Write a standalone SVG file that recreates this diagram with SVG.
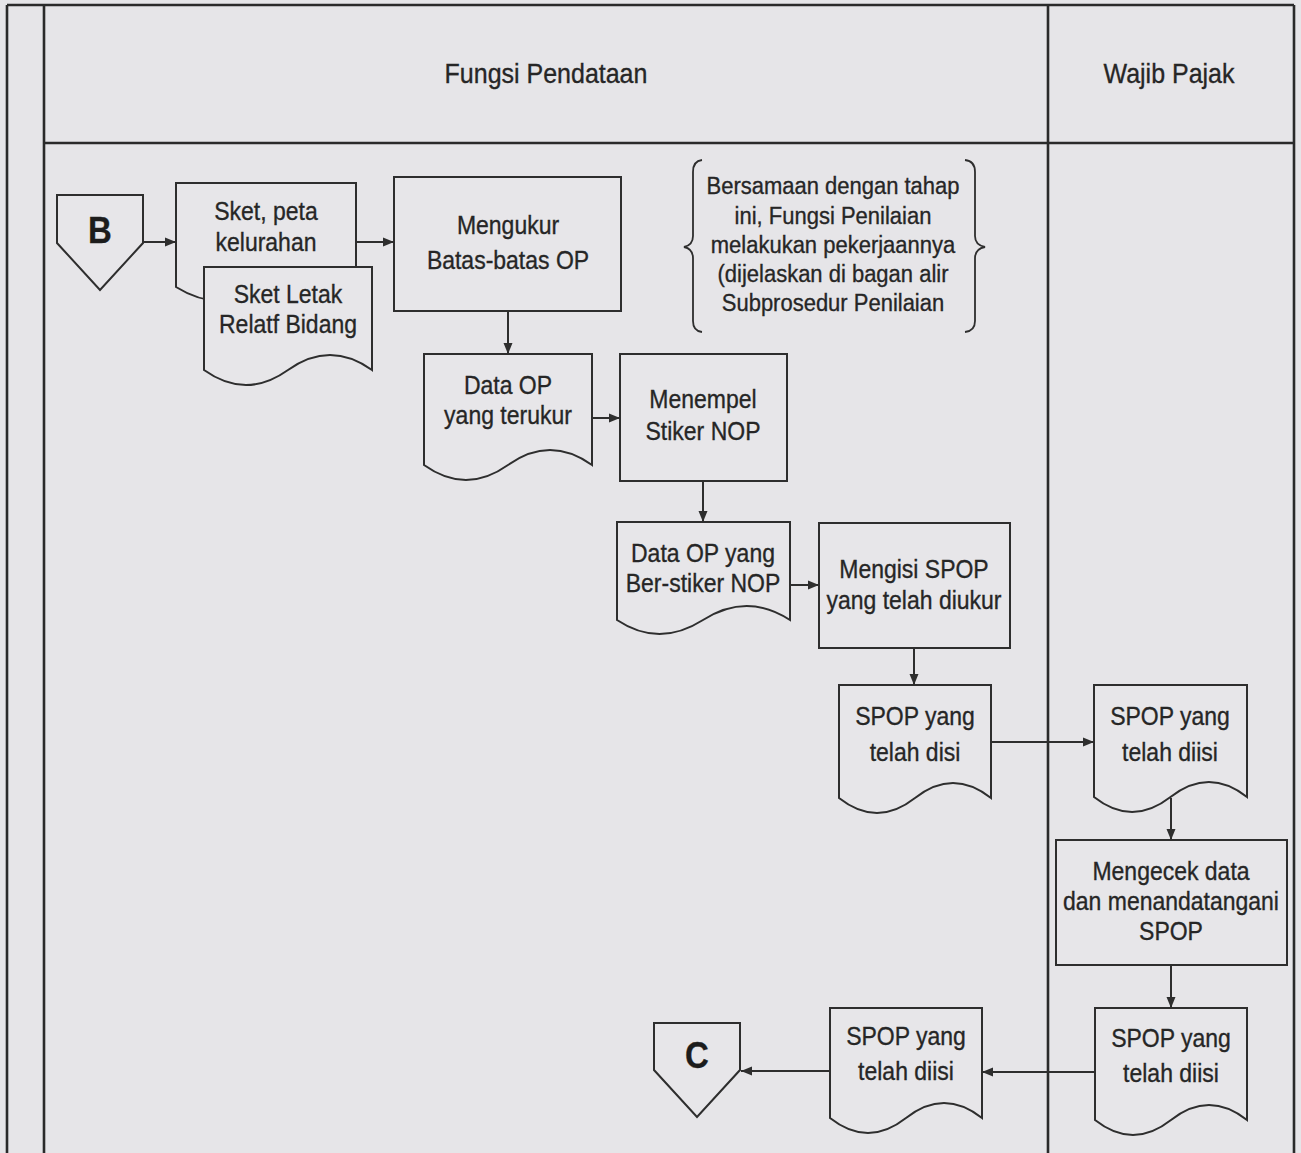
<svg xmlns="http://www.w3.org/2000/svg" width="1301" height="1153" viewBox="0 0 1301 1153">
  <style>
    .lane{fill:none;stroke:#2a2a2a;stroke-width:2.6}
    .shape{fill:#e7e6e9;stroke:#2e2e2e;stroke-width:2}
    .brace{fill:none;stroke:#2e2e2e;stroke-width:1.8}
    .edge{fill:none;stroke:#2e2e2e;stroke-width:2;marker-end:url(#arrow)}
    text{font-family:"Liberation Sans",Arial,sans-serif;fill:#262626;stroke:#262626;stroke-width:0.3;text-anchor:middle;transform:scale(1,1.1)}
    .lbl{font-size:23px}
    .note{font-size:22px}
    .head{font-size:25px}
    .conn{font-size:33px;font-weight:bold;fill:#1c1c1c}
  </style>
  <defs>
    <marker id="arrow" markerUnits="userSpaceOnUse" markerWidth="12" markerHeight="10" refX="11" refY="5" orient="auto">
      <path d="M0,0.5 L11,5 L0,9.5 z" fill="#2e2e2e"/>
    </marker>
  </defs>

  <!-- paper -->
  <rect width="1301" height="1153" fill="#e6e5e8"/>

  <!-- swimlane frame -->
  <g id="lanes">
    <path class="lane" d="M7,5 H1294 M7,5 V1153 M44,5 V1153 M1294,5 V1153 M1048,5 V1153 M44,143 H1294"/>
    <text class="head" x="546" y="75.5">Fungsi Pendataan</text>
    <text class="head" x="1169" y="75.5">Wajib Pajak</text>
  </g>

  <!-- off-page connector B -->
  <g id="conn-b">
    <path class="shape" d="M57,195 H143 V243 L100,290 L57,243 Z"/>
    <text class="conn" x="100" y="220.9">B</text>
  </g>

  <!-- document: Sket, peta kelurahan (behind) -->
  <g id="doc-sket-peta">
    <path class="shape" d="M176,183 H356 V287 Q311,259 266,287 T176,287 Z"/>
    <text class="lbl" x="266" y="200">Sket, peta</text>
    <text class="lbl" x="266" y="228.2">kelurahan</text>
  </g>

  <!-- document: Sket Letak Relatf Bidang -->
  <g id="doc-sket-letak">
    <path class="shape" d="M204,267 H372 V370 Q330,340 288,370 T204,370 Z"/>
    <text class="lbl" x="288" y="275.5">Sket Letak</text>
    <text class="lbl" x="288" y="302.7">Relatf Bidang</text>
  </g>

  <!-- process: Mengukur Batas-batas OP -->
  <g id="proc-mengukur">
    <rect class="shape" x="394" y="177" width="227" height="134"/>
    <text class="lbl" x="508" y="213">Mengukur</text>
    <text class="lbl" x="508" y="244.5">Batas-batas OP</text>
  </g>

  <!-- annotation between braces -->
  <g id="note-penilaian">
    <path class="brace" d="M702,160 Q693,161 693,172 V236 Q693,245 684,247 Q693,249 693,258 V321 Q693,331 702,332"/>
    <path class="brace" d="M965,160 Q975,161 975,172 V236 Q975,245 985,247 Q975,249 975,258 V321 Q975,331 965,332"/>
    <text class="note" x="833" y="176.5">Bersamaan dengan tahap</text>
    <text class="note" x="833" y="203.8">ini, Fungsi Penilaian</text>
    <text class="note" x="833" y="229.8">melakukan pekerjaannya</text>
    <text class="note" x="833" y="256.5">(dijelaskan di bagan alir</text>
    <text class="note" x="833" y="282.8">Subprosedur Penilaian</text>
  </g>

  <!-- document: Data OP yang terukur -->
  <g id="doc-data-op">
    <path class="shape" d="M424,354 H592 V465 Q550,435 508,465 T424,465 Z"/>
    <text class="lbl" x="508" y="358.2">Data OP</text>
    <text class="lbl" x="508" y="385.5">yang terukur</text>
  </g>

  <!-- process: Menempel Stiker NOP -->
  <g id="proc-menempel">
    <rect class="shape" x="620" y="354" width="167" height="127"/>
    <text class="lbl" x="703" y="370.9">Menempel</text>
    <text class="lbl" x="703" y="400">Stiker NOP</text>
  </g>

  <!-- document: Data OP yang Ber-stiker NOP -->
  <g id="doc-data-stiker">
    <path class="shape" d="M617,522 H790 V620 Q747,592 703,620 T617,620 Z"/>
    <text class="lbl" x="703" y="510.9">Data OP yang</text>
    <text class="lbl" x="703" y="538.2">Ber-stiker NOP</text>
  </g>

  <!-- process: Mengisi SPOP -->
  <g id="proc-mengisi">
    <rect class="shape" x="819" y="523" width="191" height="125"/>
    <text class="lbl" x="914" y="525.5">Mengisi SPOP</text>
    <text class="lbl" x="914" y="553.6">yang telah diukur</text>
  </g>

  <!-- document: SPOP yang telah disi -->
  <g id="doc-spop-1">
    <path class="shape" d="M839,685 H991 V798 Q953,768 915,798 T839,798 Z"/>
    <text class="lbl" x="915" y="659">SPOP yang</text>
    <text class="lbl" x="915" y="691.8">telah disi</text>
  </g>

  <!-- document: SPOP yang telah diisi (Wajib Pajak) -->
  <g id="doc-spop-2">
    <path class="shape" d="M1094,685 H1247 V797 Q1209,767 1170.5,797 T1094,797 Z"/>
    <text class="lbl" x="1170" y="659">SPOP yang</text>
    <text class="lbl" x="1170" y="691.8">telah diisi</text>
  </g>

  <!-- process: Mengecek data -->
  <g id="proc-mengecek">
    <rect class="shape" x="1056" y="840" width="231" height="125"/>
    <text class="lbl" x="1171" y="800">Mengecek data</text>
    <text class="lbl" x="1171" y="827.3">dan menandatangani</text>
    <text class="lbl" x="1171" y="854.5">SPOP</text>
  </g>

  <!-- document: SPOP yang telah diisi (signed) -->
  <g id="doc-spop-3">
    <path class="shape" d="M1095,1008 H1247 V1120 Q1209,1090 1171,1120 T1095,1120 Z"/>
    <text class="lbl" x="1171" y="951.8">SPOP yang</text>
    <text class="lbl" x="1171" y="983.6">telah diisi</text>
  </g>

  <!-- document: SPOP yang telah diisi (returned) -->
  <g id="doc-spop-4">
    <path class="shape" d="M830,1008 H982 V1118 Q944,1088 906,1118 T830,1118 Z"/>
    <text class="lbl" x="906" y="950">SPOP yang</text>
    <text class="lbl" x="906" y="981.8">telah diisi</text>
  </g>

  <!-- off-page connector C -->
  <g id="conn-c">
    <path class="shape" d="M654,1023 H740 V1070 L697,1117 L654,1070 Z"/>
    <text class="conn" x="697" y="970.9">C</text>
  </g>

  <!-- flow -->
  <g id="connectors">
    <path class="edge" d="M143,242 H176"/>
    <path class="edge" d="M356,242 H394"/>
    <path class="edge" d="M508,311 V354"/>
    <path class="edge" d="M592,418 H620"/>
    <path class="edge" d="M703,481 V522"/>
    <path class="edge" d="M790,585 H819"/>
    <path class="edge" d="M914,648 V685"/>
    <path class="edge" d="M991,742 H1094"/>
    <path class="edge" d="M1171,798 V840"/>
    <path class="edge" d="M1171,965 V1008"/>
    <path class="edge" d="M1095,1072 H982"/>
    <path class="edge" d="M830,1071 H741"/>
  </g>
</svg>
